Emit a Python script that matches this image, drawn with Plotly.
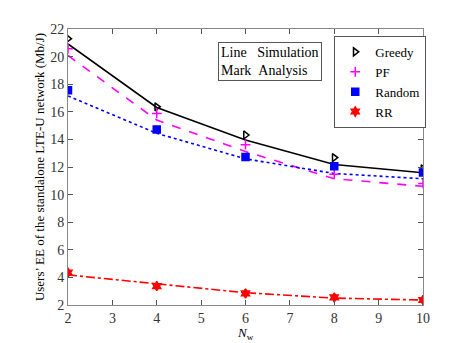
import plotly.graph_objects as go

n_w = [2, 4, 6, 8, 10]

# simulation (lines)
greedy_sim = [20.92, 16.31, 13.96, 12.18, 11.58]
pf_sim = [20.08, 15.40, 13.12, 11.15, 10.60]
random_sim = [17.15, 14.44, 12.59, 11.53, 11.15]
rr_sim = [4.18, 3.51, 2.89, 2.50, 2.36]

# analysis (marks)
greedy_ana = [21.30, 16.36, 14.32, 12.68, 11.87]
pf_ana = [20.56, 15.88, 13.62, 11.48, 10.81]
random_ana = [17.56, 14.72, 12.73, 12.06, 11.60]
rr_ana = [4.35, 3.37, 2.84, 2.55, 2.36]

names = ['Greedy', 'PF', 'Random', 'RR']
colors = ['black', '#ff00ff', '#0000ff', '#ff0000']
dashes = ['solid', 'dash', 'dot', 'dashdot']
symbols = ['triangle-right-open', 'cross-thin', 'square', 'hexagram']
sims = [greedy_sim, pf_sim, random_sim, rr_sim]
anas = [greedy_ana, pf_ana, random_ana, rr_ana]

font = 'Liberation Serif'
fig = go.Figure()

for name, c, d, s, sim, ana in zip(names, colors, dashes, symbols, sims, anas):
    fig.add_trace(go.Scatter(x=n_w, y=sim, mode='lines', showlegend=False,
                             line=dict(color=c, dash=d, width=1.6)))
for name, c, d, s, sim, ana in zip(names, colors, dashes, symbols, sims, anas):
    fig.add_trace(go.Scatter(x=n_w, y=ana, mode='markers', name=name,
                             marker=dict(symbol=s, color=c, size=7,
                                         line=dict(color=c, width=1.5))))

fig.add_annotation(x=0.4225, y=0.953, xref='paper', yref='paper', xanchor='left', yanchor='top',
                   text='Line&nbsp;&nbsp;&nbsp;Simulation<br>Mark&nbsp;&nbsp;Analysis',
                   showarrow=False, align='left', font=dict(family=font, size=14, color='black'),
                   bordercolor='#555555', borderwidth=1, borderpad=2, bgcolor='white')

# x title as annotation so the subscript is not clipped
fig.add_annotation(x=0.5, y=0, xref='paper', yref='paper', xanchor='center', yanchor='top',
                   yshift=-18, text='<i>N</i><sub>w</sub>', showarrow=False,
                   font=dict(family=font, size=13, color='black'))

axis = dict(showline=True, linecolor='#888888', mirror='ticks', ticks='inside', ticklen=5,
            tickcolor='#555555', showgrid=False, zeroline=False,
            tickfont=dict(family=font, size=14, color='#333333'))

fig.update_xaxes(range=[2, 10], dtick=1, **axis)
fig.update_yaxes(range=[2, 22], dtick=2, title=dict(text='Users\u2019 EE of the standalone LTE-U network (Mb/J)',
                 standoff=2, font=dict(family=font, size=13, color='black')), **axis)

fig.update_layout(width=458, height=343, margin=dict(l=60, r=43, t=21, b=46),
                  paper_bgcolor='white', plot_bgcolor='white',
                  legend=dict(x=0.75, y=0.975, xanchor='left', yanchor='top', bgcolor='white',
                              bordercolor='#555555', borderwidth=1, tracegroupgap=0,
                              font=dict(family=font, size=13, color='black'), itemwidth=30))

fig.write_html('out.html')
